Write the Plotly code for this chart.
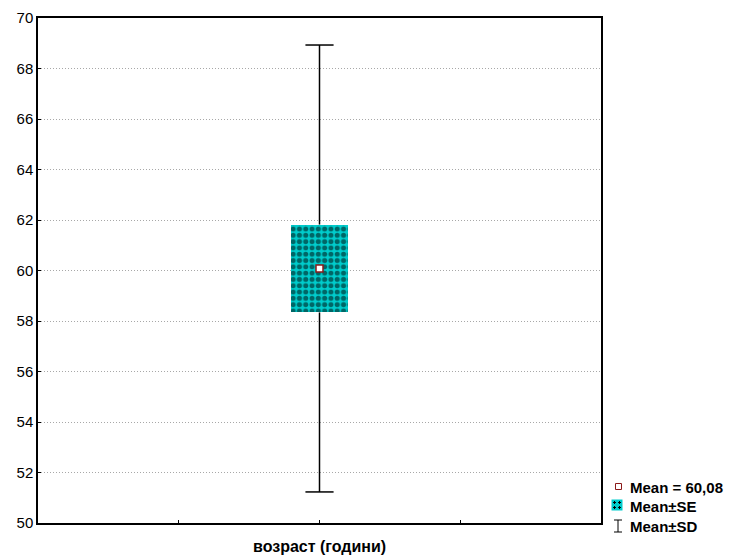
import plotly.graph_objects as go

# Summary statistics for the variable
variable = ["возраст (години)"]
x_pos = [2]
mean = [60.08]
se = [1.74]
sd = [8.85]
y_ticks = [50, 52, 54, 56, 58, 60, 62, 64, 66, 68, 70]

W, H = 734, 556
L, R, T, B = 38, 601, 18, 523  # plot area in pixels
FONT = "Liberation Sans, Arial"


def px(x):
    return (x - L) / (R - L)


def py(y):
    return (B - y) / (B - T)


m, s_e, s_d, xp = mean[0], se[0], sd[0], x_pos[0]
cap = 0.1

fig = go.Figure()

# Mean ± SE box
fig.add_trace(go.Bar(
    x=x_pos, y=[2 * s_e], base=[m - s_e], width=0.405,
    marker=dict(color="#00CCCC", line=dict(width=0),
                pattern=dict(shape=".", fgcolor="black", bgcolor="#00CCCC",
                             size=6.3, solidity=0.5, fillmode="overlay")),
    showlegend=False, hoverinfo="skip",
))

# Mean ± SD whiskers
fig.add_trace(go.Scatter(
    x=[xp, xp, None, xp, xp],
    y=[m - s_d, m - s_e, None, m + s_e, m + s_d],
    mode="lines", line=dict(color="black", width=1.5),
    showlegend=False, hoverinfo="skip",
))
fig.add_trace(go.Scatter(
    x=[xp - cap, xp + cap, None, xp - cap, xp + cap],
    y=[m - s_d, m - s_d, None, m + s_d, m + s_d],
    mode="lines", line=dict(color="black", width=1.5),
    showlegend=False, hoverinfo="skip",
))

# Mean point
fig.add_trace(go.Scatter(
    x=x_pos, y=mean, mode="markers",
    marker=dict(symbol="square", size=7, color="white",
                line=dict(color="#8B1A1A", width=1.5)),
    showlegend=False, hoverinfo="skip",
))

# Legend drawn by hand at the lower right
shapes = []
# mean icon
shapes.append(dict(type="rect", xref="paper", yref="paper",
                   x0=px(615.5), x1=px(621.5), y0=py(489.5), y1=py(483.5),
                   fillcolor="white", line=dict(color="#8B1A1A", width=1)))
# SE icon
shapes.append(dict(type="rect", xref="paper", yref="paper",
                   x0=px(611.5), x1=px(622.5), y0=py(510.5), y1=py(499.5),
                   fillcolor="#00CCCC", line=dict(width=0)))
for cx in (614.5, 619.5):
    for cy in (502.5, 507.5):
        shapes.append(dict(type="line", xref="paper", yref="paper",
                           x0=px(cx - 1.5), x1=px(cx + 1.5), y0=py(cy), y1=py(cy),
                           line=dict(color="black", width=1)))
        shapes.append(dict(type="line", xref="paper", yref="paper",
                           x0=px(cx), x1=px(cx), y0=py(cy - 1.5), y1=py(cy + 1.5),
                           line=dict(color="black", width=1)))
# SD icon (I-beam)
shapes.append(dict(type="line", xref="paper", yref="paper",
                   x0=px(618), x1=px(618), y0=py(520), y1=py(532),
                   line=dict(color="black", width=1)))
for yy in (520, 532):
    shapes.append(dict(type="line", xref="paper", yref="paper",
                       x0=px(614), x1=px(622), y0=py(yy), y1=py(yy),
                       line=dict(color="black", width=1)))

legend_labels = ["Mean = %s" % f"{m:.2f}".replace(".", ","), "Mean±SE", "Mean±SD"]
legend_y = [487, 506, 526]
annotations = []
for lab, yy in zip(legend_labels, legend_y):
    annotations.append(dict(
        text="<b>%s</b>" % lab, xref="paper", yref="paper",
        x=px(628), y=py(yy), xanchor="left", yanchor="middle",
        showarrow=False, font=dict(family=FONT, size=15, color="black"),
    ))

# Variable name below the axis
annotations.append(dict(
    text="<b>%s</b>" % variable[0], xref="x", yref="paper",
    x=xp, y=py(546), xanchor="center", yanchor="middle",
    showarrow=False, font=dict(family=FONT, size=16, color="black"),
))

fig.update_layout(
    width=W, height=H,
    margin=dict(l=L, r=W - R, t=T, b=H - B),
    paper_bgcolor="white", plot_bgcolor="white",
    font=dict(family=FONT, size=15, color="black"),
    shapes=shapes, annotations=annotations,
    bargap=0,
    xaxis=dict(
        range=[0, 4], tickvals=[1, 2, 3], ticktext=["", "", ""],
        ticks="inside", ticklen=3, tickcolor="black",
        showgrid=False, zeroline=False, automargin=False,
        showline=True, linecolor="black", linewidth=1.5, mirror=True,
    ),
    yaxis=dict(
        range=[50, 70], tickvals=y_ticks,
        ticks="inside", ticklen=3, tickcolor="black",
        showgrid=True, gridcolor="#a8a8a8", griddash="1px,2px", gridwidth=1,
        zeroline=False, automargin=False,
        showline=True, linecolor="black", linewidth=1.5, mirror=True,
        tickfont=dict(size=15),
    ),
)

fig.write_html("out.html")
